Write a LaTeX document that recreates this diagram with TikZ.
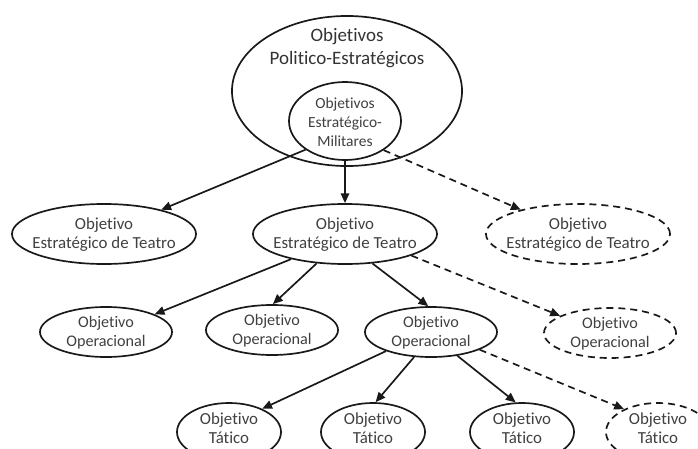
\documentclass[tikz,border=0pt]{standalone}
\usepackage{fontspec}
\setmainfont[Ligatures=NoCommon]{Carlito}
\usetikzlibrary{arrows.meta,shapes.geometric}

\newcommand{\ctexto}[2][-4pt]{\makebox[0pt]{\smash{\raisebox{#1}{\begin{tabular}{@{}c@{}}#2\end{tabular}}}}}

\begin{document}
\begin{tikzpicture}[x=0.025cm,y=-0.025cm,
    linha/.style={line width=1.2pt,black!90},
    tracejado/.style={dash pattern=on 5pt off 3.5pt},
    seta/.style={linha,-{Triangle[length=7pt,width=6pt]}},
    objetivo/.style={draw,linha,ellipse,inner sep=0pt,font=\fontsize{12}{13.5}\selectfont,text=black!75},
    teatro/.style={objetivo,minimum width=4.6cm,minimum height=1.5cm},
    operacional/.style={objetivo,minimum width=3.3cm,minimum height=1.25cm,font=\fontsize{11.5}{13.5}\selectfont},
    tatico/.style={objetivo,minimum width=2.6cm,minimum height=1.45cm}]
    % Area da figura
    \useasboundingbox (0,0) rectangle (698,448);
    \clip (0,0) rectangle (698,448);

    % Objetivos politico-estrategicos e estrategico-militares
    \node[objetivo,minimum width=5.75cm,minimum height=3.75cm] (pol) at (347,91) {};
    \node[font=\fontsize{13.5}{16.5}\selectfont,align=center,text=black!80] (poltxt) at (347,48) {Objetivos\\Politico-Estratégicos};
    \node[objetivo,minimum width=2.8cm,minimum height=1.95cm,font=\fontsize{11}{13.5}\selectfont] (mil) at (345,121) {\ctexto[-5pt]{Objetivos\\Estratégico-\\Militares}};

    % Objetivos estrategicos de teatro
    \node[teatro] (et1) at (104,234) {\ctexto{Objetivo\\Estratégico de Teatro}};
    \node[teatro] (et2) at (345,234) {\ctexto{Objetivo\\Estratégico de Teatro}};
    \node[teatro,tracejado] (et3) at (578,234) {\ctexto{Objetivo\\Estratégico de Teatro}};

    % Objetivos operacionais
    \node[operacional] (op1) at (106,332) {\ctexto{Objetivo\\Operacional}};
    \node[operacional] (op2) at (272,330) {\ctexto{Objetivo\\Operacional}};
    \node[operacional] (op3) at (431,332) {\ctexto{Objetivo\\Operacional}};
    \node[operacional,tracejado] (op4) at (610,333) {\ctexto{Objetivo\\Operacional}};

    % Objetivos taticos
    \node[tatico] (t1) at (229,432) {\ctexto[-1.5pt]{Objetivo\\Tático}};
    \node[tatico] (t2) at (373,432) {\ctexto[-1.5pt]{Objetivo\\Tático}};
    \node[tatico] (t3) at (522,432) {\ctexto[-1.5pt]{Objetivo\\Tático}};
    \node[tatico,tracejado] (t4) at (658,432) {\ctexto[-1.5pt]{Objetivo\\Tático}};

    % Setas
    \draw[seta] (mil.216) -- (et1.23);
    \draw[seta] (mil) -- (et2);
    \draw[seta,tracejado] (mil.-37) -- (et3.157);
    \draw[seta] (et2.205) -- (op1.20);
    \draw[seta] (et2.226) -- (op2.88);
    \draw[seta] (et2.-47) -- (op3.96);
    \draw[seta,tracejado] (et2.-18) -- (op4.161);
    \draw[seta] (op3.203) -- (t1.35);
    \draw[seta] (op3.236) -- (t2.85);
    \draw[seta] (op3.-42) -- (t3.102);
    \draw[seta,tracejado] (op3.-20) -- (t4.146);

\end{tikzpicture}
\end{document}
